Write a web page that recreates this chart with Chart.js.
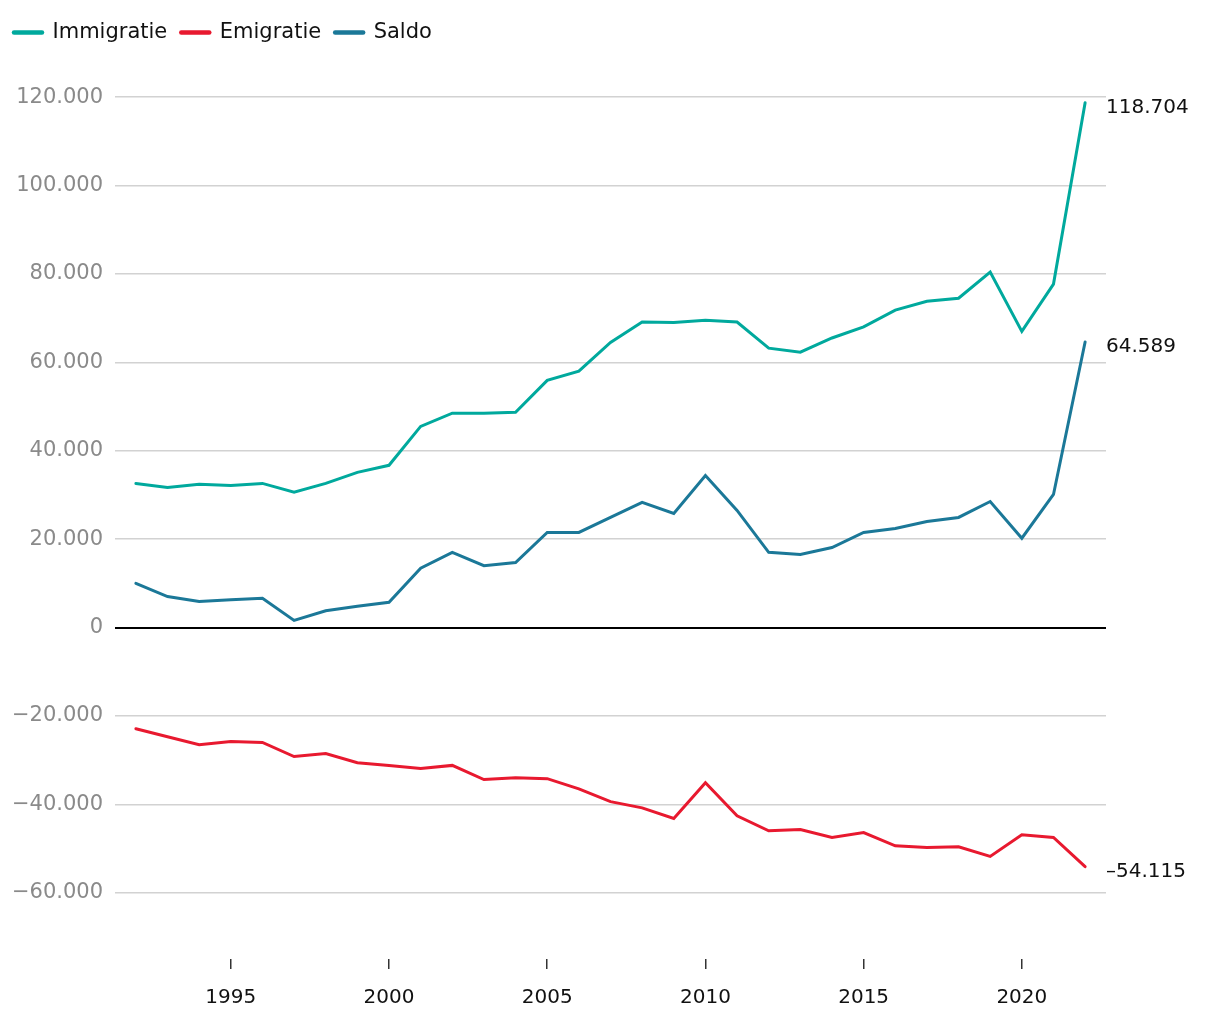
<!DOCTYPE html>
<html>
<head>
<meta charset="utf-8">
<script src="https://cdn.jsdelivr.net/npm/chart.js@4"></script>
<style>
  body { margin: 0; background: #fff; }
  #migratieChart { display: block; }
</style>
</head>
<body>
<canvas id="migratieChart" width="1220" height="1020"></canvas>
<script>
// jaren en waarden
var years = [1992, 1993, 1994, 1995, 1996, 1997, 1998, 1999, 2000, 2001,
             2002, 2003, 2004, 2005, 2006, 2007, 2008, 2009, 2010, 2011,
             2012, 2013, 2014, 2015, 2016, 2017, 2018, 2019, 2020, 2021, 2022];

var immigratie = [32600, 31700, 32400, 32100, 32600, 30600, 32600, 35100, 36700, 45500,
                  48500, 48500, 48700, 55900, 58000, 64500, 69100, 69000, 69500, 69100,
                  63200, 62300, 65500, 68000, 71800, 73800, 74500, 80400, 67000, 77700, 118704];

var emigratie = [-22900, -24700, -26500, -25800, -26000, -29200, -28500, -30600, -31200, -31900,
                 -31200, -34400, -34000, -34200, -36500, -39400, -40800, -43200, -35100, -42600,
                 -46000, -45700, -47500, -46400, -49400, -49800, -49600, -51800, -46900, -47500, -54115];

var saldo = [10000, 7000, 5900, 6300, 6600, 1600, 3800, 4800, 5700, 13400,
             17000, 14000, 14700, 21500, 21500, 24900, 28300, 25800, 34400, 26500,
             17000, 16500, 18100, 21500, 22400, 24000, 24900, 28500, 20200, 30100, 64589];

var seriesNames = ["Immigratie", "Emigratie", "Saldo"];
var seriesColors = ["#00a99d", "#e8192f", "#1b7898"];
var xTickYears = [1995, 2000, 2005, 2010, 2015, 2020];
var yTickValues = [-60000, -40000, -20000, 0, 20000, 40000, 60000, 80000, 100000, 120000];

var FONT = "'DejaVu Sans'";

function nlFormat(v) {
    var s = Math.abs(Math.round(v)).toString().replace(/\B(?=(\d{3})+(?!\d))/g, ".");
    return (v < 0 ? "\u2212" : "") + s;
}

function toPoints(arr) {
    return years.map(function (yr, i) { return { x: yr, y: arr[i] }; });
}

var allSeries = [immigratie, emigratie, saldo];
var datasets = allSeries.map(function (arr, i) {
    return {
        label: seriesNames[i],
        data: toPoints(arr),
        borderColor: seriesColors[i],
        backgroundColor: seriesColors[i],
        borderWidth: 3,
        pointRadius: 0,
        borderCapStyle: 'round',
        borderJoinStyle: 'miter',
        tension: 0
    };
});

// waarde aan het eind van elke lijn
var endLabels = {
    id: 'endLabels',
    afterDatasetsDraw: function (chart) {
        var ctx = chart.ctx;
        ctx.save();
        ctx.font = "20px " + FONT;
        ctx.fillStyle = "#111";
        ctx.textAlign = "left";
        ctx.textBaseline = "middle";
        chart.data.datasets.forEach(function (ds, i) {
            var meta = chart.getDatasetMeta(i);
            var last = meta.data[meta.data.length - 1];
            var v = ds.data[ds.data.length - 1].y;
            var txt = (v < 0 ? "\u2013" : "") + nlFormat(Math.abs(v));
            ctx.fillText(txt, chart.chartArea.right, last.y + 5);
        });
        ctx.restore();
    }
};

// extra ruimte onder de legenda
var legendSpace = {
    id: 'legendSpace',
    beforeInit: function (chart) {
        var oldFit = chart.legend.fit;
        chart.legend.fit = function () {
            oldFit.bind(chart.legend)();
            this.height += 22;
        };
    }
};

var config = {
    type: 'line',
    data: { datasets: datasets },
    options: {
        responsive: false,
        devicePixelRatio: 1,
        animation: false,
        layout: { padding: { left: 0, right: 114, top: 8, bottom: 0 } },
        plugins: {
            legend: {
                display: true,
                position: 'top',
                align: 'start',
                labels: {
                    usePointStyle: true,
                    pointStyle: 'line',
                    pointStyleWidth: 28,
                    boxHeight: 4,
                    padding: 14,
                    color: "#111",
                    font: { family: FONT, size: 21 },
                    generateLabels: function (chart) {
                        var items = Chart.defaults.plugins.legend.labels.generateLabels(chart);
                        items.forEach(function (it) { it.lineWidth = 4.5; it.lineCap = 'round'; });
                        return items;
                    }
                }
            },
            tooltip: { enabled: false }
        },
        scales: {
            x: {
                type: 'linear',
                min: 1991.34,
                max: 2022.66,
                afterBuildTicks: function (scale) {
                    scale.ticks = xTickYears.map(function (v) { return { value: v }; });
                },
                afterFit: function (scale) { scale.height = 61; },
                border: { display: false },
                grid: {
                    drawOnChartArea: false,
                    drawTicks: true,
                    tickLength: 10,
                    tickColor: "#333",
                    lineWidth: 1.5
                },
                ticks: {
                    padding: 17,
                    color: "#111",
                    font: { family: FONT, size: 20 },
                    maxRotation: 0,
                    callback: function (v) { return String(v); }
                }
            },
            y: {
                min: -75000,
                max: 125000,
                afterBuildTicks: function (scale) {
                    scale.ticks = yTickValues.map(function (v) { return { value: v }; });
                },
                afterFit: function (scale) { scale.width = 115; },
                border: { display: false },
                grid: {
                    drawTicks: false,
                    color: function (c) { return c.tick && c.tick.value === 0 ? "#000" : "#d2d2d2"; },
                    lineWidth: function (c) { return c.tick && c.tick.value === 0 ? 2 : 1.5; }
                },
                ticks: {
                    padding: 12,
                    color: "#8a8a8a",
                    font: { family: FONT, size: 21 },
                    callback: function (v) { return nlFormat(v); }
                }
            }
        }
    },
    plugins: [endLabels, legendSpace]
};

var migratieCtx = document.getElementById("migratieChart");
var migratieChart = new Chart(migratieCtx, config);
</script>
</body>
</html>
